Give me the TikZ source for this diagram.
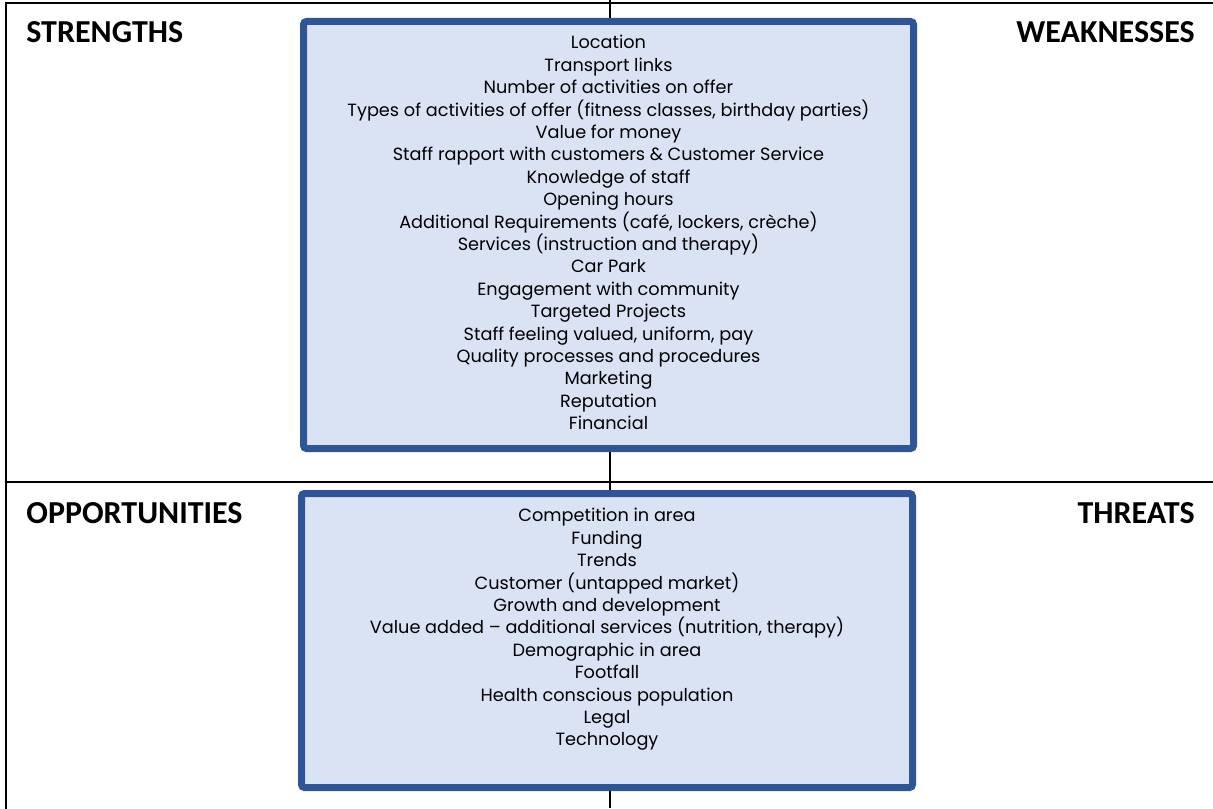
\documentclass[tikz,border=0pt]{standalone}
\usepackage{fontspec}
\setmainfont{Carlito}
\newfontfamily\listfont{Poppins}
\definecolor{boxblue}{HTML}{2F5597}
\definecolor{boxfill}{HTML}{DAE3F3}

\begin{document}
\begin{tikzpicture}[x=0.5pt, y=-0.5pt,
  heading/.style={font=\fontsize{16}{18}\selectfont\bfseries, inner sep=0pt},
  listbox/.style={draw=boxblue, fill=boxfill, line width=3.5pt, rounded corners=1.5pt, inner sep=0pt},
  listtext/.style={font=\listfont\fontsize{8.85}{11.2}\selectfont, align=center, inner sep=0pt, anchor=north},
  divider/.style={line width=1pt, black}]
  \useasboundingbox (0,0) rectangle (1213,808);
  \clip (0,0) rectangle (1213,808);
  % frame and quadrant lines
  \coordinate (frametl) at (6,3.5);
  \coordinate (framebr) at (1230,830);
  \coordinate (vtop) at (610,0);
  \coordinate (vbot) at (610,808);
  \coordinate (hleft) at (6,482);
  \coordinate (hright) at (1213,482);
  \draw[divider] (frametl) rectangle (framebr);
  \draw[divider] (vtop) -- (vbot);
  \draw[divider] (hleft) -- (hright);
  % headings
  \node[heading, anchor=base west] (strengths) at (26,43) {STRENGTHS};
  \node[heading, anchor=base east] (weaknesses) at (1195,43) {WEAKNESSES};
  \node[heading, anchor=base west] (opportunities) at (26,523) {OPPORTUNITIES};
  \node[heading, anchor=base east] (threats) at (1195,523) {THREATS};
  % upper list
  \node[listbox, minimum width=305pt, minimum height=213.5pt] (swbox) at (608.5,235) {};
  \node[listtext] (swlist) at (608.5,35) {Location\\ Transport links\\ Number of activities on offer\\
    Types of activities of offer (fitness classes, birthday parties)\\ Value for money\\
    Staff rapport with customers \& Customer Service\\ Knowledge of staff\\ Opening hours\\
    Additional Requirements (café, lockers, crèche)\\ Services (instruction and therapy)\\
    Car Park\\ Engagement with community\\ Targeted Projects\\ Staff feeling valued, uniform, pay\\
    Quality processes and procedures\\ Marketing\\ Reputation\\ Financial};
  % lower list
  \node[listbox, minimum width=305.5pt, minimum height=147pt] (otbox) at (607,640.5) {};
  \node[listtext] (otlist) at (607,508) {Competition in area\\ Funding\\ Trends\\
    Customer (untapped market)\\ Growth and development\\
    Value added – additional services (nutrition, therapy)\\ Demographic in area\\ Footfall\\
    Health conscious population\\ Legal\\ Technology};
\end{tikzpicture}
\end{document}
